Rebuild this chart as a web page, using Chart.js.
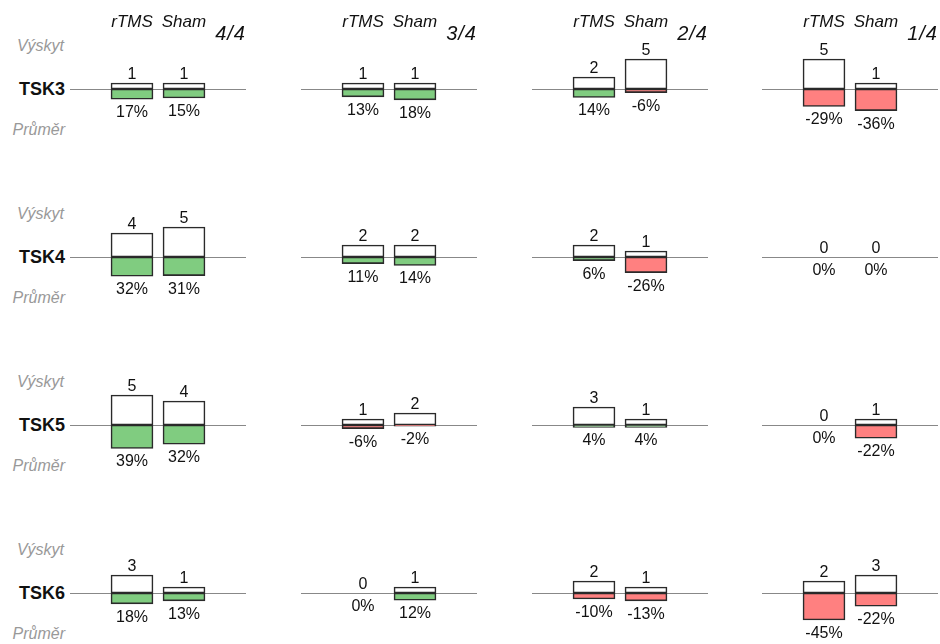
<!DOCTYPE html>
<html lang="cs">
<head>
<meta charset="UTF-8">
<title>Výskyt a průměr – TSK3–TSK6</title>
<script src="https://cdn.jsdelivr.net/npm/chart.js"></script>
<style>
    body {
        margin: 0;
        background: #fff;
        font-family: "Liberation Sans", Arial, sans-serif;
    }
    #page {
        position: relative;
        width: 940px;
        height: 644px;
        overflow: hidden;
    }
    #page canvas {
        position: absolute;
    }
    .txt {
        position: absolute;
        white-space: nowrap;
        color: #111;
    }
</style>
</head>
<body>
<div id="page"></div>
<script>
    // --- data ---
    const groups = ['TSK3', 'TSK4', 'TSK5', 'TSK6'];
    const columns = ['4/4', '3/4', '2/4', '1/4'];
    const arms = ['rTMS', 'Sham'];

    // Výskyt (count) per column: [rTMS, Sham]
    const tsk3Count = [[1, 1], [1, 1], [2, 5], [5, 1]];
    const tsk4Count = [[4, 5], [2, 2], [2, 1], [0, 0]];
    const tsk5Count = [[5, 4], [1, 2], [3, 1], [0, 1]];
    const tsk6Count = [[3, 1], [0, 1], [2, 1], [2, 3]];

    // Průměr (mean change, %) per column: [rTMS, Sham]
    const tsk3Mean = [[17, 15], [13, 18], [14, -6], [-29, -36]];
    const tsk4Mean = [[32, 31], [11, 14], [6, -26], [0, 0]];
    const tsk5Mean = [[39, 32], [-6, -2], [4, 4], [0, -22]];
    const tsk6Mean = [[18, 13], [0, 12], [-10, -13], [-45, -22]];

    const countRows = [tsk3Count, tsk4Count, tsk5Count, tsk6Count];
    const meanRows = [tsk3Mean, tsk4Mean, tsk5Mean, tsk6Mean];

    // --- layout ---
    const colLeft = [70, 301, 532, 762];
    const rowAxis = [89, 257, 425, 593];
    const PANEL_W = 176, PANEL_H = 120;
    const GREEN = '#80CC80', RED = '#FF8080';
    const FONT = '"Liberation Sans", Arial, sans-serif';

    const page = document.getElementById('page');

    function addText(str, x, baseline, opts) {
        const fs = opts.size || 15;
        const d = document.createElement('div');
        d.className = 'txt';
        d.textContent = str;
        d.style.fontSize = fs + 'px';
        d.style.lineHeight = fs + 'px';
        d.style.top = (baseline - fs * 0.8465) + 'px';
        if (opts.italic) d.style.fontStyle = 'italic';
        if (opts.bold) d.style.fontWeight = 'bold';
        if (opts.color) d.style.color = opts.color;
        if (opts.spacing) d.style.letterSpacing = opts.spacing + 'px';
        if (opts.align === 'right') {
            d.style.right = (940 - x) + 'px';
            d.style.textAlign = 'right';
        } else if (opts.align === 'center') {
            d.style.left = (x - 60) + 'px';
            d.style.width = '120px';
            d.style.textAlign = 'center';
        } else {
            d.style.left = x + 'px';
        }
        page.appendChild(d);
    }

    // zero line across the whole panel
    const zeroLine = {
        id: 'zeroLine',
        beforeDatasetsDraw(chart) {
            const ctx = chart.ctx;
            const y = Math.round(chart.scales.yCount.getPixelForValue(0)) + 0.5;
            ctx.save();
            ctx.strokeStyle = '#888';
            ctx.lineWidth = 1;
            ctx.beginPath();
            ctx.moveTo(0, y);
            ctx.lineTo(chart.width, y);
            ctx.stroke();
            ctx.restore();
        }
    };

    // count above, mean % below
    const valueLabels = {
        id: 'valueLabels',
        afterDatasetsDraw(chart, args, opts) {
            const ctx = chart.ctx;
            const up = chart.getDatasetMeta(0).data;
            const down = chart.getDatasetMeta(1).data;
            ctx.save();
            ctx.font = '16px ' + FONT;
            ctx.fillStyle = '#111';
            ctx.textAlign = 'center';
            ctx.textBaseline = 'alphabetic';
            up.forEach((bar, i) => {
                ctx.fillText(String(opts.counts[i]), bar.x, bar.y - 4);
            });
            down.forEach((bar, i) => {
                ctx.fillText(opts.means[i] + '%', bar.x, bar.y + 18);
            });
            ctx.restore();
        }
    };

    groups.forEach((g, r) => {
        const axisY = rowAxis[r];
        addText('Výskyt', 64, axisY - 37, { size: 16, italic: true, color: '#999', align: 'right' });
        addText(g, 65, axisY + 6, { size: 18, bold: true, align: 'right' });
        addText('Průměr', 65, axisY + 47, { size: 16, italic: true, color: '#999', align: 'right' });

        columns.forEach((col, c) => {
            const counts = arms.map((a, k) => countRows[r][c][k]);
            const means = arms.map((a, k) => meanRows[r][c][k]);

            const canvas = document.createElement('canvas');
            canvas.width = PANEL_W;
            canvas.height = PANEL_H;
            canvas.style.left = colLeft[c] + 'px';
            canvas.style.top = (axisY - PANEL_H / 2) + 'px';
            page.appendChild(canvas);

            new Chart(canvas.getContext('2d'), {
                type: 'bar',
                data: {
                    labels: arms,
                    datasets: [{
                        label: 'Výskyt',
                        data: counts,
                        yAxisID: 'yCount',
                        stack: 's',
                        backgroundColor: '#fff',
                        borderColor: '#2a2a2a',
                        borderWidth: 1.6,
                        borderSkipped: false,
                        barThickness: 42
                    }, {
                        label: 'Průměr',
                        data: means.map(m => Math.abs(m)),
                        yAxisID: 'yPct',
                        stack: 's',
                        backgroundColor: means.map(m => m < 0 ? RED : GREEN),
                        borderColor: '#2a2a2a',
                        borderWidth: 1.6,
                        borderSkipped: false,
                        barThickness: 42
                    }]
                },
                options: {
                    responsive: false,
                    animation: false,
                    devicePixelRatio: 1,
                    layout: { padding: { left: 36, right: 36, top: 0, bottom: 0 } },
                    plugins: {
                        legend: { display: false },
                        tooltip: { enabled: false },
                        valueLabels: { counts: counts, means: means }
                    },
                    scales: {
                        x: { display: false, stacked: true },
                        yCount: { display: false, stacked: false, min: -10, max: 10 },
                        yPct: { display: false, stacked: false, reverse: true, min: -100, max: 100 }
                    }
                },
                plugins: [zeroLine, valueLabels]
            });

            if (r === 0) {
                addText('rTMS', colLeft[c] + 62, 27, { size: 17, italic: true, align: 'center' });
                addText('Sham', colLeft[c] + 114, 27, { size: 17, italic: true, align: 'center' });
                addText(col, colLeft[c] + 176, 40, { size: 20, italic: true, align: 'right', spacing: 1 });
            }
        });
    });
</script>
</body>
</html>
